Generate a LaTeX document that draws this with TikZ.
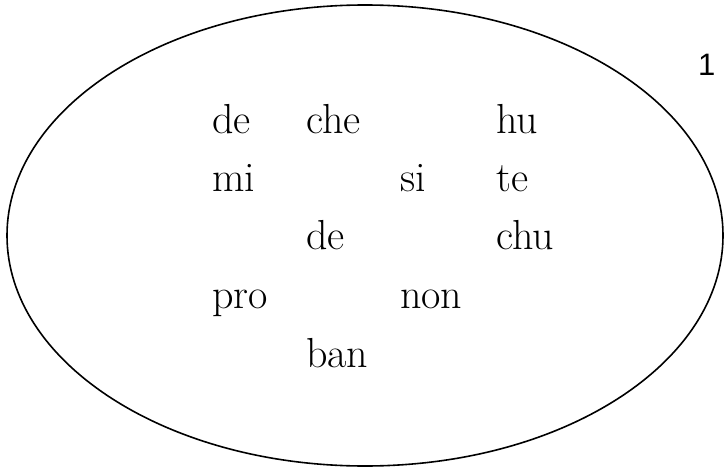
\documentclass[tikz,border=0pt]{standalone}
\usepackage{fontspec}
\newfontfamily\labfont{Liberation Sans}
\begin{document}
\begin{tikzpicture}[x=1pt,y=-1pt,
  word/.style={anchor=base west,inner sep=0pt,font=\fontsize{42}{50}\selectfont}]
\useasboundingbox (0,0) rectangle (725,468);
\draw[line width=1.6pt] (365,235.5) ellipse [x radius=358, y radius=230.5];
\node[anchor=north west,inner sep=0pt,font=\labfont\fontsize{31}{36}\selectfont] (lab) at (698,54) {1};
\node[word] (w1) at (212,133) {de};
\node[word] (w2) at (306,133) {che};
\node[word] (w3) at (496,133) {hu};
\node[word] (w4) at (212,191) {mi};
\node[word] (w5) at (400,191) {si};
\node[word] (w6) at (496,191) {te};
\node[word] (w7) at (306,249) {de};
\node[word] (w8) at (496,249) {chu};
\node[word] (w9) at (212,308) {pro};
\node[word] (w10) at (400,308) {non};
\node[word] (w11) at (306,367) {ban};
\end{tikzpicture}
\end{document}
